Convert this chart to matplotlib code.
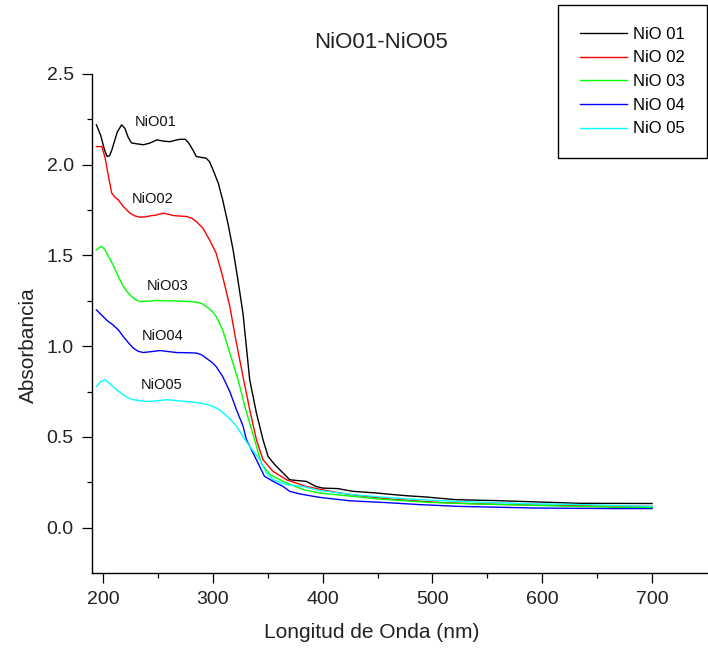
import matplotlib
matplotlib.use("Agg")
import matplotlib.pyplot as plt
from matplotlib.ticker import FixedLocator

plt.rcParams['font.family'] = ['Liberation Sans', 'DejaVu Sans']

# UV-Vis absorbance spectra, wavelength in nm
wl_01 = [194, 198, 201, 203, 204, 206, 208, 210, 213, 217, 220, 223, 226, 231,
         237, 243, 249, 255, 261, 266, 270, 275, 278, 282, 285, 290, 294, 297,
         301, 305, 309, 314, 318.5, 323, 327.5, 333.6, 339.7, 345.7, 350.3,
         356.4, 364, 370, 376, 385, 394, 400, 414, 427.5, 449, 459, 476, 494,
         521.5, 558, 588, 633.6, 700]
abs_01 = [2.22, 2.16, 2.09, 2.055, 2.045, 2.05, 2.08, 2.12, 2.18, 2.22, 2.2,
          2.15, 2.12, 2.115, 2.11, 2.12, 2.137, 2.13, 2.127, 2.135, 2.14, 2.14,
          2.12, 2.08, 2.045, 2.04, 2.036, 2.017, 1.96, 1.898, 1.806, 1.67, 1.53,
          1.36, 1.18, 0.815, 0.632, 0.485, 0.393, 0.347, 0.301, 0.264, 0.26,
          0.255, 0.227, 0.218, 0.215, 0.2, 0.191, 0.185, 0.176, 0.169, 0.154,
          0.149, 0.143, 0.134, 0.133]

wl_02 = [194, 199, 202, 205, 208, 211, 214, 218.5, 224.5, 229, 233.6, 238,
         242.7, 248, 254.8, 259, 264, 270, 276, 281, 285, 291, 297, 303, 309,
         315.5, 321.5, 327.5, 333.6, 339.7, 345.7, 354.8, 367, 385, 403, 424.5,
         461, 482, 506, 536.6, 573, 633.6, 700]
abs_02 = [2.10, 2.10, 2.036, 1.935, 1.843, 1.82, 1.806, 1.77, 1.733, 1.718,
          1.711, 1.712, 1.718, 1.722, 1.733, 1.728, 1.72, 1.717, 1.715, 1.705,
          1.687, 1.65, 1.586, 1.513, 1.384, 1.219, 1.017, 0.833, 0.65, 0.485,
          0.374, 0.31, 0.264, 0.227, 0.205, 0.182, 0.158, 0.149, 0.139, 0.132,
          0.127, 0.121, 0.117]

wl_03 = [194, 197, 199, 202, 205, 209, 212.5, 215, 218.5, 222, 226, 230, 233.6,
         241, 249, 256, 264, 275, 285, 290, 294, 299, 303, 309, 315.5, 323, 330,
         338, 344, 352, 364, 382, 397, 424.5, 452, 497, 543, 603, 667, 700]
abs_03 = [1.531, 1.545, 1.549, 1.53, 1.494, 1.45, 1.403, 1.37, 1.329, 1.3,
          1.274, 1.255, 1.246, 1.248, 1.252, 1.25, 1.25, 1.247, 1.243, 1.235,
          1.219, 1.195, 1.164, 1.09, 0.962, 0.815, 0.65, 0.485, 0.356, 0.292,
          0.255, 0.21, 0.191, 0.174, 0.157, 0.139, 0.13, 0.121, 0.112, 0.112]

wl_04 = [194, 200, 204, 209, 214, 218.5, 223, 227.5, 232, 236.6, 244, 252, 260,
         267, 276, 285, 290, 294, 299, 303, 309, 315.5, 321.5, 327.5, 330.6,
         339.7, 347, 355, 364, 370, 379, 397, 424.5, 458, 488, 524.5, 594, 664,
         700]
abs_04 = [1.2, 1.164, 1.14, 1.118, 1.09, 1.053, 1.02, 0.99, 0.972, 0.965, 0.97,
          0.976, 0.97, 0.965, 0.964, 0.962, 0.952, 0.934, 0.912, 0.888, 0.833,
          0.75, 0.65, 0.56, 0.485, 0.374, 0.283, 0.255, 0.227, 0.2, 0.186,
          0.167, 0.148, 0.138, 0.127, 0.117, 0.108, 0.105, 0.105]

wl_05 = [194, 198, 202, 205, 209, 214, 218.5, 223, 227.5, 235, 243, 250, 258,
         267, 276, 288, 294, 300, 306, 309, 315.5, 321.5, 327.5, 333.6, 342.7,
         348.8, 355, 367, 382, 397, 427.5, 452, 488, 521.5, 585, 633.6, 700]
abs_05 = [0.778, 0.805, 0.815, 0.8, 0.778, 0.752, 0.732, 0.715, 0.705, 0.698,
          0.695, 0.7, 0.705, 0.7, 0.695, 0.687, 0.68, 0.668, 0.65, 0.635, 0.6,
          0.558, 0.503, 0.448, 0.374, 0.301, 0.264, 0.237, 0.227, 0.205, 0.182,
          0.169, 0.154, 0.145, 0.132, 0.127, 0.117]

names = ['NiO01', 'NiO02', 'NiO03', 'NiO04', 'NiO05']
legend_names = ['NiO 01', 'NiO 02', 'NiO 03', 'NiO 04', 'NiO 05']
colors = ['#000000', '#ff0000', '#00ff00', '#0000ff', '#00ffff']

# inline labels next to each curve
label_x = [248, 245, 258.5, 254, 253]
label_y = [2.234, 1.812, 1.333, 1.057, 0.784]

series = [(wl_01, abs_01), (wl_02, abs_02), (wl_03, abs_03),
          (wl_04, abs_04), (wl_05, abs_05)]

fig = plt.figure(figsize=(7.08, 6.49), dpi=100)
ax = fig.add_axes([92 / 708, 1 - 573 / 649, 615 / 708, 499 / 649])

for (wl, ab), lab, c in zip(series, legend_names, colors):
    ax.plot(wl, ab, color=c, lw=1.0, label=lab)

for name, x, y in zip(names, label_x, label_y):
    ax.text(x, y, name, fontsize=10.5, color='#111111', ha='center', va='center')

ax.set_xlim(190, 750)
ax.set_ylim(-0.25, 2.5)
ax.xaxis.set_major_locator(FixedLocator([200, 300, 400, 500, 600, 700]))
ax.xaxis.set_minor_locator(FixedLocator([250, 350, 450, 550, 650]))
ax.yaxis.set_major_locator(FixedLocator([0.0, 0.5, 1.0, 1.5, 2.0, 2.5]))
ax.yaxis.set_minor_locator(FixedLocator([0.25, 0.75, 1.25, 1.75, 2.25]))
ax.set_yticklabels(['0.0', '0.5', '1.0', '1.5', '2.0', '2.5'])

for side in ['top', 'right']:
    ax.spines[side].set_visible(False)
for side in ['left', 'bottom']:
    ax.spines[side].set_linewidth(1.0)

ax.tick_params(which='major', direction='out', length=7.2, width=0.9,
               labelsize=14, pad=6, labelcolor='#222222')
ax.tick_params(which='minor', direction='out', length=3.8, width=0.9)

fig.text(381 / 708, 1 - 42 / 649, 'NiO01-NiO05', fontsize=16,
         ha='center', va='center', color='#222222')
fig.text(28 / 708, 1 - 345 / 649, 'Absorbancia', fontsize=15,
         rotation=90, ha='center', va='center', color='#222222')
fig.text(372 / 708, 1 - 632 / 649, 'Longitud de Onda (nm)', fontsize=15,
         ha='center', va='center', color='#222222')

leg = fig.legend(loc='upper right', bbox_to_anchor=(707 / 708, 1 - 5 / 649),
                 bbox_transform=fig.transFigure, fontsize=12, frameon=True,
                 fancybox=False, borderpad=1.3, handlelength=2.8,
                 handletextpad=0.4, labelspacing=0.52, borderaxespad=0)
leg.get_frame().set_edgecolor('black')
leg.get_frame().set_linewidth(1.0)
leg.get_frame().set_alpha(1)

fig.savefig('out.png', dpi=100)
